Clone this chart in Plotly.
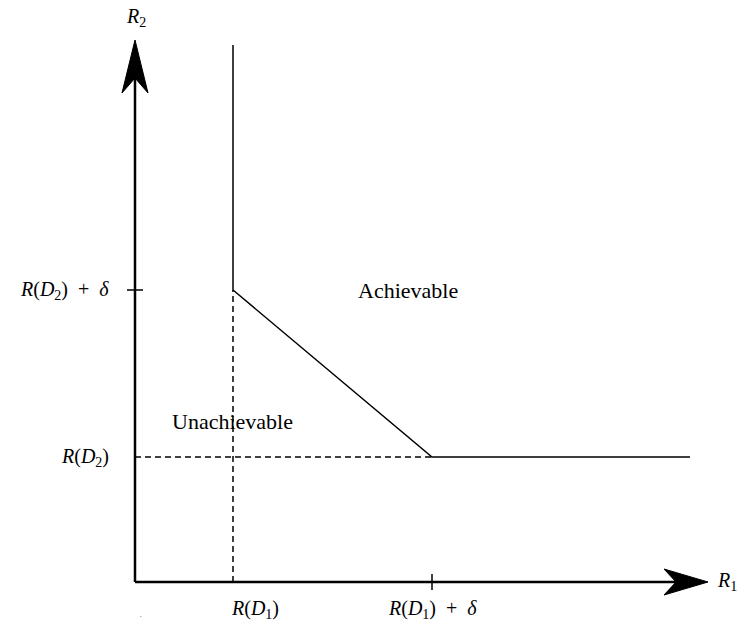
import plotly.graph_objects as go

# ---- data (1 unit = 100 px) ----
x_rd1 = 0.98          # R(D1)
x_rd1_delta = 2.97    # R(D1)+delta
x_end = 5.55          # end of horizontal boundary
y_rd2 = 1.25          # R(D2)
y_rd2_delta = 2.92    # R(D2)+delta
y_top = 5.37          # top of vertical boundary
x_axis_tip = 5.73
y_axis_tip = 5.42

boundary_x = [x_rd1, x_rd1, x_rd1_delta, x_end]
boundary_y = [y_top, y_rd2_delta, y_rd2, y_rd2]

x_tick_labels = ["<i>R</i>(<i>D</i><sub>1</sub>)", "<i>R</i>(<i>D</i><sub>1</sub>)  +  <i>δ</i>"]
y_tick_labels = ["<i>R</i>(<i>D</i><sub>2</sub>)", "<i>R</i>(<i>D</i><sub>2</sub>)  +  <i>δ</i>"]

FONT = "Liberation Serif"
fig = go.Figure()

# axes lines
fig.add_trace(go.Scatter(x=[0, x_axis_tip - 0.3], y=[0, 0], mode="lines",
                         line=dict(color="black", width=2.5), hoverinfo="skip"))
fig.add_trace(go.Scatter(x=[0, 0], y=[0, y_axis_tip - 0.3], mode="lines",
                         line=dict(color="black", width=2.5), hoverinfo="skip"))

# boundary
fig.add_trace(go.Scatter(x=boundary_x, y=boundary_y, mode="lines",
                         line=dict(color="black", width=1.5), hoverinfo="skip"))
# dashed guides
fig.add_trace(go.Scatter(x=[x_rd1, x_rd1], y=[0, y_rd2_delta], mode="lines",
                         line=dict(color="black", width=1.5, dash="6px,4px"), hoverinfo="skip"))
fig.add_trace(go.Scatter(x=[0, x_rd1_delta], y=[y_rd2, y_rd2], mode="lines",
                         line=dict(color="black", width=1.5, dash="6px,4px"), hoverinfo="skip"))
# ticks
fig.add_trace(go.Scatter(x=[-0.08, 0.08], y=[y_rd2_delta, y_rd2_delta], mode="lines",
                         line=dict(color="black", width=1.5), hoverinfo="skip"))
fig.add_trace(go.Scatter(x=[x_rd1_delta, x_rd1_delta], y=[-0.08, 0.08], mode="lines",
                         line=dict(color="black", width=1.5), hoverinfo="skip"))

# arrowheads (stealth)
tx, ty = x_axis_tip, 0
fig.add_shape(type="path", xref="x", yref="y",
              path=f"M {tx},{ty} L {tx-0.44},{ty+0.13} L {tx-0.32},{ty} L {tx-0.44},{ty-0.13} Z",
              fillcolor="black", line=dict(color="black", width=1))
tx, ty = 0, y_axis_tip
fig.add_shape(type="path", xref="x", yref="y",
              path=f"M {tx},{ty} L {tx-0.13},{ty-0.53} L {tx},{ty-0.38} L {tx+0.13},{ty-0.53} Z",
              fillcolor="black", line=dict(color="black", width=1))

def label(x, y, text, size=20):
    fig.add_annotation(x=x, y=y, xref="x", yref="y", text=text, showarrow=False,
                       font=dict(family=FONT, size=size, color="black"),
                       xanchor="center", yanchor="middle")

label(x_rd1 + 0.22, -0.27, x_tick_labels[0])
label(x_rd1_delta, -0.27, x_tick_labels[1])
label(-0.50, y_rd2, y_tick_labels[0])
label(-0.71, y_rd2_delta, y_tick_labels[1])
label(5.92, 0.01, "<i>R</i><sub>1</sub>")
label(0.01, 5.65, "<i>R</i><sub>2</sub>")
label(2.73, y_rd2_delta, "Achievable", 22)
label(0.97, 1.61, "Unachievable", 22)
label(0.06, -0.33, ".", 6)

fig.update_layout(
    width=743, height=626, autosize=False,
    margin=dict(l=0, r=0, t=0, b=0),
    plot_bgcolor="white", paper_bgcolor="white",
    showlegend=False,
    xaxis=dict(range=[-1.35, 6.08], visible=False, fixedrange=True),
    yaxis=dict(range=[-0.44, 5.82], visible=False, fixedrange=True),
)

fig.write_html("out.html")
